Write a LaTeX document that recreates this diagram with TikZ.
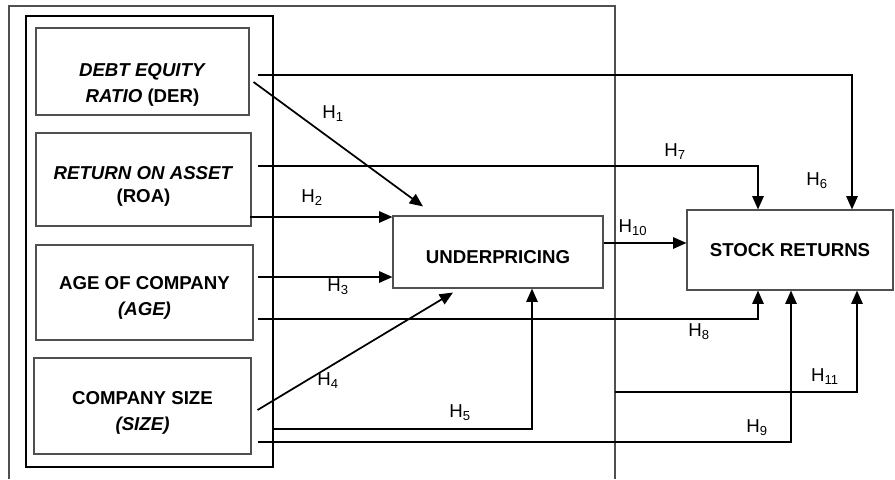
\documentclass[tikz,border=0pt]{standalone}
\usepackage{fontspec}
\setmainfont{Liberation Sans}
\usepackage{xcolor}
\definecolor{boxgray}{RGB}{80,80,80}
\usetikzlibrary{arrows.meta, positioning, calc}

\begin{document}
\begin{tikzpicture}[x=0.75pt, y=-0.75pt,
  varbox/.style={draw=boxgray, line width=0.8pt, align=center, inner sep=2pt,
    font=\fontsize{14}{19.5}\selectfont\bfseries},
  lower/.style={execute at begin node={\rule{0pt}{#1}}},
  hyp/.style={line width=1.3pt, -{Triangle[length=10pt, width=8.5pt]}},
  hlabel/.style={inner sep=0pt, font=\fontsize{14}{16}\selectfont}]
  \useasboundingbox (0,0) rectangle (895,479);

  % Outer frame (open at the bottom)
  \draw[boxgray, line width=0.8pt] (9,479) -- (9,6) -- (615,6) -- (615,479);
  \coordinate (frameR) at (615,392);

  % Independent variables
  \node[draw, line width=0.8pt, minimum width=185.25pt, minimum height=338.25pt] (indep) at (149.5,241.5) {};
  \node[varbox, lower=50pt, minimum width=159.75pt, minimum height=65.25pt] (der) at (142.5,71.5)
       {\textit{DEBT EQUITY}\\\textit{RATIO} (DER)};
  \node[varbox, lower=38pt, minimum width=161.25pt, minimum height=69.75pt] (roa) at (143.5,179.5)
       {\textit{RETURN ON ASSET}\\[-2pt](ROA)};
  \node[varbox, lower=37pt, minimum width=162.75pt, minimum height=71.25pt] (age) at (144.5,292.5)
       {AGE OF COMPANY\\\textit{(AGE)}};
  \node[varbox, lower=40pt, minimum width=162.75pt, minimum height=72pt] (size) at (142.5,406)
       {COMPANY SIZE\\\textit{(SIZE)}};

  % Intervening and dependent variables
  \node[varbox, lower=17.5pt, minimum width=157.5pt, minimum height=54pt] (under) at (498,252) {UNDERPRICING};
  \node[varbox, minimum width=154.5pt, minimum height=60pt] (stock) at (790,250) {STOCK RETURNS};

  % Hypotheses
  \draw[hyp] ([shift={(8,3.5)}]der.east) -| ([shift={(62,0)}]stock.north);
  \draw[hyp] ([shift={(4,10.5)}]der.east) -- ([shift={(-75,-9)}]under.north);
  \draw[hyp] ([shift={(6,-13.5)}]roa.east) -| ([shift={(-32,0)}]stock.north);
  \draw[hyp] ([shift={(-2,37.5)}]roa.east) -- ([shift={(0,-35)}]under.west);
  \draw[hyp] ([shift={(4,-15.5)}]age.east) -- ([shift={(0,25)}]under.west);
  \draw[hyp] ([shift={(4,26.5)}]age.east) -| ([shift={(-32,0)}]stock.south);
  \draw[hyp] ([shift={(6,4)}]size.east) -- ([shift={(-45,4)}]under.south);
  \draw[hyp] ([shift={(0,187.5)}]indep.east) -| ([shift={(34,0)}]under.south);
  \draw[hyp] ([shift={(6,36)}]size.east) -| ([shift={(1,0)}]stock.south);
  \draw[hyp] (frameR) -| ([shift={(67,0)}]stock.south);
  \draw[hyp] ([shift={(0,-9)}]under.east) -- ([shift={(0,-7)}]stock.west);

  % Labels
  \node[hlabel] (h1) at (333,114) {H\textsubscript{1}};
  \node[hlabel] (h2) at (312,198) {H\textsubscript{2}};
  \node[hlabel] (h3) at (338,287) {H\textsubscript{3}};
  \node[hlabel] (h4) at (328,381) {H\textsubscript{4}};
  \node[hlabel] (h5) at (460,413) {H\textsubscript{5}};
  \node[hlabel] (h6) at (817,181) {H\textsubscript{6}};
  \node[hlabel] (h7) at (675,152) {H\textsubscript{7}};
  \node[hlabel] (h8) at (699,332) {H\textsubscript{8}};
  \node[hlabel] (h9) at (757,428) {H\textsubscript{9}};
  \node[hlabel] (h10) at (633,228) {H\textsubscript{10}};
  \node[hlabel] (h11) at (825,377) {H\textsubscript{11}};
\end{tikzpicture}
\end{document}
